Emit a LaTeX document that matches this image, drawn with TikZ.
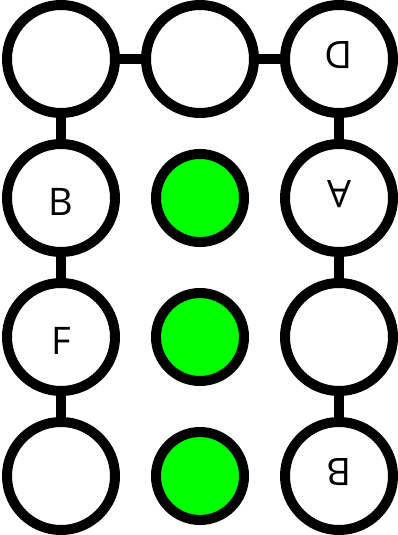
\documentclass[tikz,border=0pt]{standalone}
\usepackage{fontspec}
\setmainfont{Open Sans}
\usepackage{tikz}
\usetikzlibrary{positioning}
\usepackage{xcolor}
\definecolor{facegreen}{RGB}{0,255,0}

\tikzset{
  face/.style={draw, circle, line width=10pt, fill=white, minimum size=108pt, inner sep=0pt,
    font=\fontsize{38}{38}\selectfont, text height=38pt, text depth=3pt},
  upside/.style={face, rotate=180},
  centre/.style={draw, circle, line width=10pt, fill=facegreen, minimum size=88pt, inner sep=0pt},
  link/.style={line width=10pt}
}

\begin{document}
\begin{tikzpicture}[x=1pt, y=-1pt]
  \useasboundingbox (0,0) rectangle (398,535);
  \node[face] (tl) at (61,59) {};
  \node[face] (tm) at (200,59) {};
  \node[upside] (tr) at (339,59) {D};
  \node[face] (lb) at (61,198) {B};
  \node[face] (lf) at (61,337) {F};
  \node[face] (lx) at (61,476) {};
  \node[upside] (ra) at (339,198) {A};
  \node[upside] (rx) at (339,337) {};
  \node[upside] (rb) at (339,476) {B};
  \node[centre] (g1) at (200,198) {};
  \node[centre] (g2) at (200,337) {};
  \node[centre] (g3) at (200,476) {};
  \draw[link] (tl) -- (tm);
  \draw[link] (tm) -- (tr);
  \draw[link] (tl) -- (lb);
  \draw[link] (lb) -- (lf);
  \draw[link] (lf) -- (lx);
  \draw[link] (tr) -- (ra);
  \draw[link] (ra) -- (rx);
  \draw[link] (rx) -- (rb);
\end{tikzpicture}
\end{document}
